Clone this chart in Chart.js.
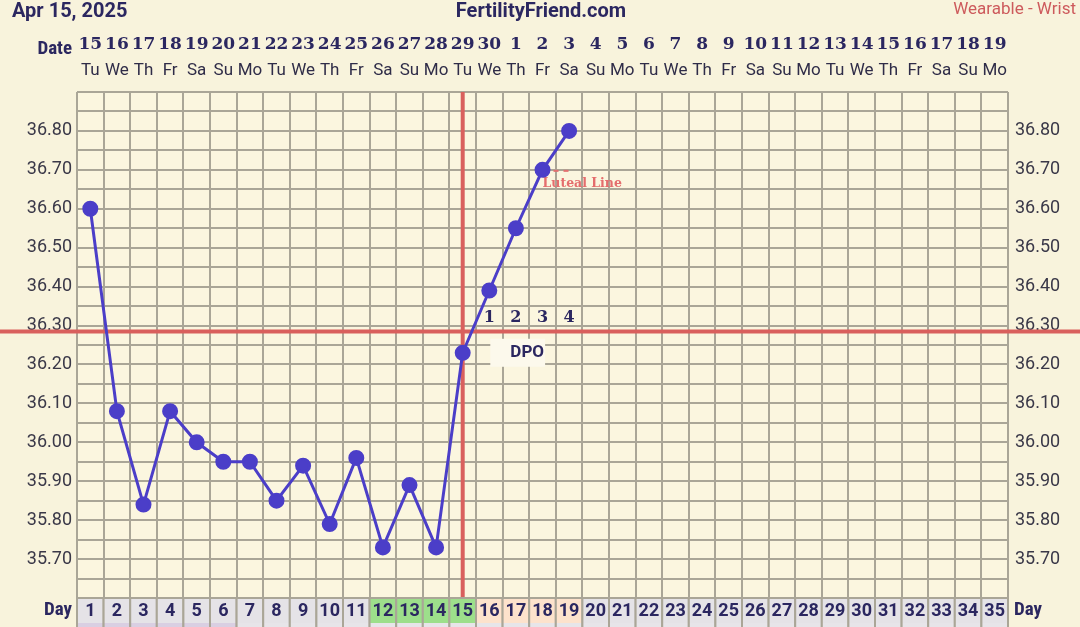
<!DOCTYPE html>
<html>
<head>
<meta charset="utf-8">
<script src="https://cdn.jsdelivr.net/npm/chart.js@4.4.1/dist/chart.umd.min.js"></script>
<style>
  html, body { margin: 0; padding: 0; background: #f8f3dc; }
  canvas { display: block; }
</style>
</head>
<body>
<canvas id="bbt" width="1080" height="627"></canvas>
<script>
// cycle days, calendar dates and weekdays
var cycleDays = ['1','2','3','4','5','6','7','8','9','10','11','12','13','14','15','16','17','18',
    '19','20','21','22','23','24','25','26','27','28','29','30','31','32','33','34','35'];
var dateLabels = ['15','16','17','18','19','20','21','22','23','24','25','26','27','28','29','30',
    '1','2','3','4','5','6','7','8','9','10','11','12','13','14','15','16','17','18','19'];
var weekdayLabels = ['Tu','We','Th','Fr','Sa','Su','Mo','Tu','We','Th','Fr','Sa','Su','Mo','Tu','We',
    'Th','Fr','Sa','Su','Mo','Tu','We','Th','Fr','Sa','Su','Mo','Tu','We','Th','Fr','Sa','Su','Mo'];
// phase per day: n = normal, f = fertile, l = luteal
var dayPhase = ['n','n','n','n','n','n','n','n','n','n','n','f','f','f','f','l','l','l','l',
    'n','n','n','n','n','n','n','n','n','n','n','n','n','n','n','n'];

// temperatures (C)
var temps = [36.60, 36.08, 35.84, 36.08, 36.00, 35.95, 35.95, 35.85, 35.94, 35.79,
    35.96, 35.73, 35.89, 35.73, 36.23, 36.39, 36.55, 36.70, 36.80];

var yTickLabels = ['36.80','36.70','36.60','36.50','36.40','36.30','36.20','36.10',
    '36.00','35.90','35.80','35.70'];
var ovulationDay = '15';
var coverline = 36.285;
var lutealLevel = 36.70;
var dpoDays = ['16','17','18','19'];
var dpoLabels = ['1','2','3','4'];

var navy = '#2b2760';
var gridColor = '#aaa697';
var redLine = '#d9605d';
var phaseColors = { n: '#e5e3e7', f: '#9ddf8b', l: '#fde2cc' };
var narrow = '"Liberation Sans Narrow", "Roboto Condensed", Roboto, sans-serif';

var decor = {
    id: 'decor',
    beforeDraw: function (chart) {
        var ctx = chart.ctx;
        var a = chart.chartArea;
        ctx.save();
        ctx.fillStyle = '#f8f3dc';
        ctx.fillRect(0, 0, chart.width, chart.height);
        ctx.fillStyle = '#fbf6df';
        ctx.fillRect(a.left, a.top, a.right - a.left, a.bottom - a.top);
        ctx.restore();
    },
    beforeDatasetsDraw: function (chart) {
        var ctx = chart.ctx;
        var a = chart.chartArea;
        var x = chart.scales.x;
        var y = chart.scales.y;
        ctx.save();
        ctx.strokeStyle = redLine;
        ctx.lineWidth = 4;
        // coverline
        var cy = y.getPixelForValue(coverline);
        ctx.beginPath();
        ctx.moveTo(0, cy);
        ctx.lineTo(chart.width, cy);
        ctx.stroke();
        // ovulation line
        var ox = x.getPixelForValue(cycleDays.indexOf(ovulationDay));
        ctx.beginPath();
        ctx.moveTo(ox, a.top);
        ctx.lineTo(ox, a.bottom);
        ctx.stroke();

        // DPO box
        var bx1 = x.getPixelForValue(cycleDays.indexOf('16')) + 1;
        var bx2 = x.getPixelForValue(cycleDays.indexOf('19')) - 24;
        var by = y.getPixelForValue(36.23);
        ctx.fillStyle = '#fcf9ec';
        ctx.fillRect(bx1, by - 14, bx2 - bx1, 28);
        ctx.fillStyle = navy;
        ctx.font = 'bold 17px Roboto, sans-serif';
        ctx.textAlign = 'center';
        ctx.textBaseline = 'middle';
        ctx.fillText('DPO', (x.getPixelForValue(16) + x.getPixelForValue(17)) / 2 - 2, by);

        // luteal line marker
        var lx = x.getPixelForValue(cycleDays.indexOf('18'));
        var ly = y.getPixelForValue(lutealLevel);
        ctx.strokeStyle = '#e27070';
        ctx.lineWidth = 2;
        ctx.setLineDash([5, 5]);
        ctx.beginPath();
        ctx.moveTo(lx + 11, ly + 1);
        ctx.lineTo(lx + 29, ly + 1);
        ctx.stroke();
        ctx.setLineDash([]);
        ctx.fillStyle = '#e46d6d';
        ctx.font = 'bold 12.5px "DejaVu Serif", serif';
        ctx.textAlign = 'left';
        ctx.fillText('Luteal Line', lx, ly + 14);
        ctx.restore();
    },
    afterDraw: function (chart) {
        var ctx = chart.ctx;
        var a = chart.chartArea;
        var x = chart.scales.x;
        var y = chart.scales.y;
        var colW = x.getPixelForValue(1) - x.getPixelForValue(0);
        ctx.save();

        // header
        ctx.fillStyle = navy;
        ctx.textBaseline = 'middle';
        ctx.font = 'bold 20px Roboto, sans-serif';
        ctx.textAlign = 'left';
        ctx.fillText('Apr 15, 2025', 12, 12);
        ctx.textAlign = 'center';
        ctx.fillText('FertilityFriend.com', 541, 12);
        ctx.fillStyle = '#cd5a5c';
        ctx.font = '17px Roboto, sans-serif';
        ctx.textAlign = 'right';
        ctx.fillText('Wearable - Wrist', 1076, 10);

        // date row
        ctx.fillStyle = navy;
        ctx.font = 'bold 19px ' + narrow;
        ctx.textAlign = 'right';
        ctx.fillText('Date', a.left - 5, 49);
        for (var i = 0; i < cycleDays.length; i++) {
            var cx = x.getPixelForValue(i);
            ctx.fillStyle = navy;
            ctx.font = 'bold 17px "DejaVu Serif", serif';
            ctx.textAlign = 'center';
            ctx.fillText(dateLabels[i], cx, 45);
            ctx.fillStyle = '#2f2c48';
            ctx.font = '17px Roboto, sans-serif';
            ctx.fillText(weekdayLabels[i], cx, 71);
        }

        // day row
        var top = a.bottom;
        var rowH = 25;
        for (var j = 0; j < cycleDays.length; j++) {
            var dx = x.getPixelForValue(j) - colW / 2;
            ctx.fillStyle = phaseColors[dayPhase[j]];
            ctx.fillRect(dx, top, colW, rowH);
            ctx.fillStyle = j < 6 ? '#d9cfe2' : '#e7e5e9';
            ctx.fillRect(dx, top + rowH, colW, 10);
            ctx.strokeStyle = gridColor;
            ctx.lineWidth = 2;
            ctx.strokeRect(dx, top, colW, rowH + 10);
            ctx.fillStyle = navy;
            ctx.font = 'bold 18px Roboto, sans-serif';
            ctx.textAlign = 'center';
            ctx.fillText(cycleDays[j], x.getPixelForValue(j), top + rowH / 2 + 1);
        }
        ctx.font = 'bold 19px ' + narrow;
        ctx.textAlign = 'right';
        ctx.fillText('Day', a.left - 5, top + 12);
        ctx.textAlign = 'left';
        ctx.fillText('Day', a.right + 6, top + 12);

        // DPO counts
        ctx.font = 'bold 16px "DejaVu Serif", serif';
        ctx.textAlign = 'center';
        ctx.fillStyle = navy;
        var dpoY = y.getPixelForValue(coverline) - 14;
        for (var k = 0; k < dpoDays.length; k++) {
            ctx.fillText(dpoLabels[k], x.getPixelForValue(cycleDays.indexOf(dpoDays[k])), dpoY);
        }
        ctx.restore();
    }
};

function tickText(value) {
    var s = Number(value).toFixed(2);
    return yTickLabels.indexOf(s) >= 0 ? s : '';
}

new Chart(document.getElementById('bbt'), {
    type: 'line',
    data: {
        labels: cycleDays,
        datasets: [{
            data: temps,
            borderColor: '#4b3ec8',
            backgroundColor: '#4b3ec8',
            borderWidth: 3,
            pointRadius: 6.5,
            pointHoverRadius: 6.5,
            tension: 0,
            yAxisID: 'y'
        }, {
            data: temps,
            showLine: false,
            pointRadius: 0,
            yAxisID: 'y2'
        }]
    },
    options: {
        responsive: false,
        animation: false,
        devicePixelRatio: 1,
        layout: { padding: { top: 92, bottom: 29, left: 0, right: 0 } },
        plugins: { legend: { display: false }, tooltip: { enabled: false } },
        scales: {
            x: {
                type: 'category',
                offset: true,
                grid: { offset: true, color: gridColor, lineWidth: 2, drawTicks: false },
                border: { display: false },
                ticks: { display: false },
                afterFit: function (s) { s.height = 0; }
            },
            y: {
                position: 'left',
                min: 35.6,
                max: 36.9,
                grid: { color: gridColor, lineWidth: 2, drawTicks: false },
                border: { display: false },
                ticks: {
                    stepSize: 0.05,
                    autoSkip: false,
                    padding: 5,
                    color: '#3a3848',
                    font: { family: 'Roboto, sans-serif', size: 18 },
                    callback: tickText
                },
                afterFit: function (s) { s.width = 77; }
            },
            y2: {
                position: 'right',
                min: 35.6,
                max: 36.9,
                grid: { display: false, drawTicks: false },
                border: { display: false },
                ticks: {
                    stepSize: 0.05,
                    autoSkip: false,
                    padding: 7,
                    color: '#3a3848',
                    font: { family: 'Roboto, sans-serif', size: 18 },
                    callback: tickText
                },
                afterFit: function (s) { s.width = 72; }
            }
        }
    },
    plugins: [decor]
});
</script>
</body>
</html>
